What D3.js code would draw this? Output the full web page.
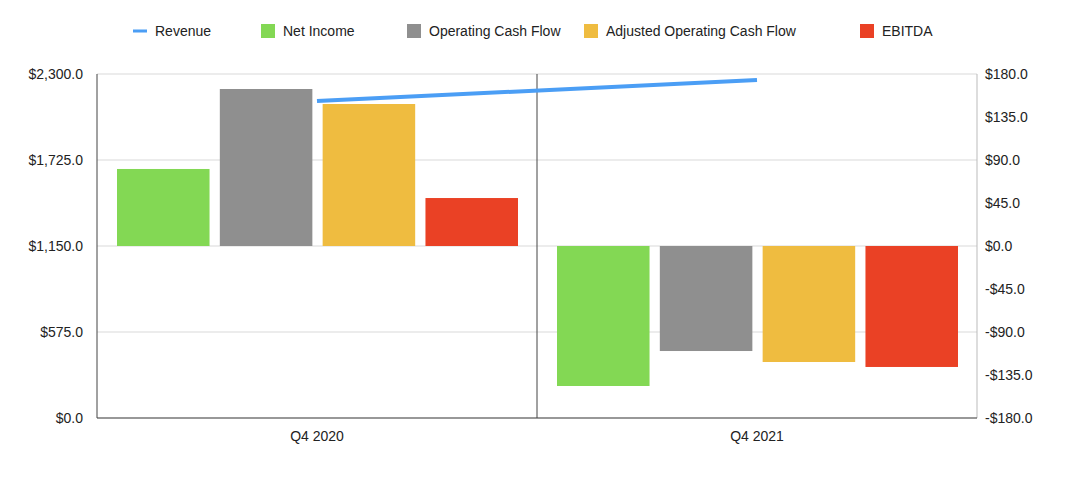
<!DOCTYPE html>
<html><head><meta charset="utf-8">
<script src="https://cdn.jsdelivr.net/npm/d3@7"></script>
<style>body{margin:0;background:#fff;font-family:"Liberation Sans",Arial,sans-serif;}</style>
</head><body>
<svg id="chart" width="1080" height="496"></svg>
<script>
const categories = ['Q4 2020', 'Q4 2021'];
const revenue = [2119, 2260];
const netIncome = [80.6, -146.5];
const operatingCashFlow = [164.3, -109.9];
const adjustedOperatingCashFlow = [148.6, -121.4];
const ebitda = [50.2, -126.6];
const leftTicks = [0, 575, 1150, 1725, 2300];
const rightTicks = [-180, -135, -90, -45, 0, 45, 90, 135, 180];

const barSeries = [
	{name: 'Net Income', values: netIncome, color: '#83d854'},
	{name: 'Operating Cash Flow', values: operatingCashFlow, color: '#8f8f8f'},
	{name: 'Adjusted Operating Cash Flow', values: adjustedOperatingCashFlow, color: '#efbc40'},
	{name: 'EBITDA', values: ebitda, color: '#ea4125'}
];

const svg = d3.select('#chart');
const plotLeft = 97, plotRight = 977, plotTop = 74, plotBottom = 418;
const fs = 14;

let xScale = d3.scaleBand().domain(categories).range([plotLeft, plotRight]);
let innerScale = d3.scaleBand().domain(barSeries.map(s => s.name))
	.range([20, xScale.bandwidth() - 19]).paddingInner(0.1);
let yLeft = d3.scaleLinear().domain([0, 2300]).range([plotBottom, plotTop]);
let yRight = d3.scaleLinear().domain([-180, 180]).range([plotBottom, plotTop]);

// grid
svg.append('g').selectAll('line').data(leftTicks).enter().append('line')
	.attr('x1', plotLeft).attr('x2', plotRight)
	.attr('y1', d => yLeft(d)).attr('y2', d => yLeft(d))
	.attr('stroke', '#d9d9d9');

// left axis labels
svg.append('g').selectAll('text').data(leftTicks).enter().append('text')
	.attr('x', 83).attr('y', d => yLeft(d) + 5)
	.attr('text-anchor', 'end').attr('font-size', fs).attr('fill', '#222')
	.text(d => '$' + d3.format(',.1f')(d));

// right axis labels
svg.append('g').selectAll('text').data(rightTicks).enter().append('text')
	.attr('x', 985).attr('y', d => yRight(d) + 5)
	.attr('font-size', fs).attr('fill', '#222')
	.text(d => (d < 0 ? '-$' : '$') + d3.format('.1f')(Math.abs(d)));

// bars
barSeries.forEach(s => {
	svg.append('g').selectAll('rect').data(categories).enter().append('rect')
		.attr('x', (c) => xScale(c) + innerScale(s.name))
		.attr('width', innerScale.bandwidth())
		.attr('y', (c, i) => yRight(Math.max(0, s.values[i])))
		.attr('height', (c, i) => Math.abs(yRight(s.values[i]) - yRight(0)))
		.attr('fill', s.color);
});

// axis lines
[plotLeft, plotLeft + xScale.bandwidth(), plotRight].forEach(x => {
	svg.append('line').attr('x1', x).attr('x2', x).attr('y1', plotTop).attr('y2', plotBottom)
		.attr('stroke', x === plotRight ? '#bbb' : '#444');
});
svg.append('line').attr('x1', plotLeft).attr('x2', plotRight).attr('y1', plotBottom).attr('y2', plotBottom).attr('stroke', '#444');

// category labels
svg.append('g').selectAll('text').data(categories).enter().append('text')
	.attr('x', d => xScale(d) + xScale.bandwidth() / 2).attr('y', 441)
	.attr('text-anchor', 'middle').attr('font-size', fs).attr('fill', '#222')
	.text(d => d);

// revenue line
svg.append('path').datum(revenue)
	.attr('d', d3.line().x((d, i) => xScale(categories[i]) + xScale.bandwidth() / 2).y(d => yLeft(d)))
	.attr('fill', 'none').attr('stroke', '#4b9ef5').attr('stroke-width', 4);

// legend
const legend = [{name: 'Revenue', color: '#4b9ef5', line: true}].concat(barSeries);
const legendX = [133, 261, 407, 584, 860];
legend.forEach((l, i) => {
	const g = svg.append('g').attr('transform', `translate(${legendX[i]},31)`);
	if (l.line) g.append('rect').attr('x', 0).attr('y', -1.5).attr('width', 14).attr('height', 3).attr('fill', l.color);
	else g.append('rect').attr('x', 0).attr('y', -7).attr('width', 14).attr('height', 14).attr('fill', l.color);
	g.append('text').attr('x', 22).attr('y', 5).attr('font-size', fs).attr('fill', '#222').text(l.name);
});
</script>
</body></html>
